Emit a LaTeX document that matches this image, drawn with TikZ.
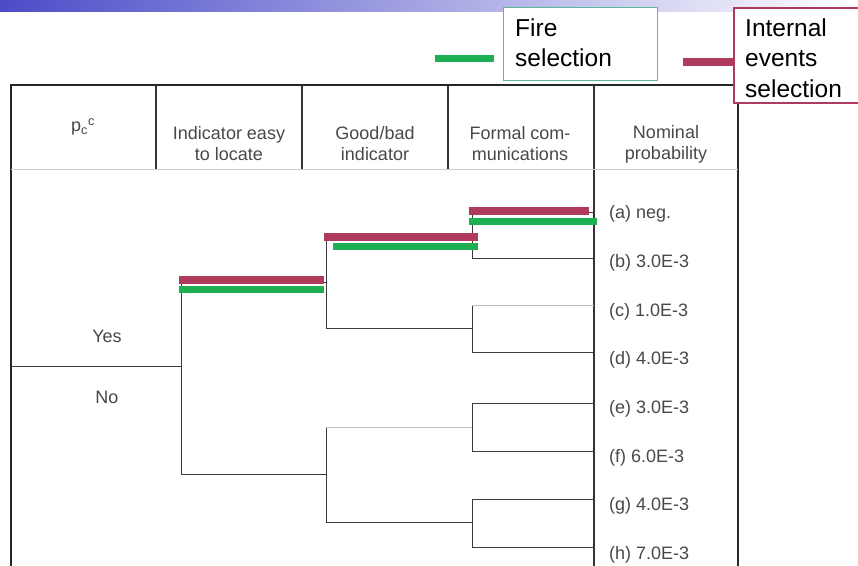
\documentclass[tikz,border=0pt]{standalone}
\usepackage{fontspec}
\setmainfont{Liberation Sans}
\usepackage{tikz}
\usetikzlibrary{positioning,calc}
\definecolor{evtred}{HTML}{AE3B5C}
\definecolor{firegreen}{HTML}{1EAF52}
\definecolor{fireteal}{HTML}{5BB99B}
\definecolor{treeink}{HTML}{3A3A3A}
\definecolor{headtext}{HTML}{484848}
\definecolor{bannerblue}{HTML}{4C4CC8}

\begin{document}
\begin{tikzpicture}[x=1pt, y=-1pt,
    frame/.style={line width=1.8pt, black!85},
    colrule/.style={line width=1.2pt, black!80},
    branch/.style={line width=1pt, treeink},
    faint/.style={line width=1pt, black!25},
    head/.style={font=\fontsize{18}{21}\selectfont, text=headtext, align=center, inner sep=0pt},
    prob/.style={font=\fontsize{18}{21}\selectfont, text=headtext, anchor=west, inner sep=0pt},
    evtbar/.style={line width=7.5pt, evtred},
    firebar/.style={line width=7pt, firegreen},
    legbox/.style={fill=white, anchor=north west, inner sep=0pt},
    legtext/.style={font=\fontsize{24.5}{30.5}\selectfont, align=left, anchor=north west, inner sep=0pt}]
  \clip (0,0) rectangle (858,565);
  \shade[left color=bannerblue, right color=white] (0,0) rectangle (858,11);

  % table frame and header
  \draw[frame] (11,566) -- (11,85) -- (738,85) -- (738,566);
  \foreach \cx in {156,302,448} \draw[colrule] (\cx,85) -- (\cx,169);
  \draw[colrule] (594,85) -- (594,566);
  \draw[line width=1pt, black!20] (11,169) -- (738,169);
  \node[head] (hpc)   at (83,127)  {p\textsubscript{c}\textsuperscript{c}};
  \node[head] (hloc)  at (229,144) {Indicator easy\\to locate};
  \node[head] (hgood) at (375,144) {Good/bad\\indicator};
  \node[head] (hcom)  at (520,144) {Formal com-\\munications};
  \node[head] (hnom)  at (666,144) {Nominal\\probability};

  % tree
  \coordinate (r0) at (11,366);
  \coordinate (j1) at (181,366);
  \coordinate (k1) at (326,282);
  \coordinate (k2) at (326,474);
  \coordinate (m1) at (472,236);
  \coordinate (m2) at (472,328);
  \coordinate (m3) at (472,427);
  \coordinate (m4) at (472,522);
  \coordinate (pa) at (594,212);
  \coordinate (pb) at (594,258);
  \coordinate (pc) at (594,305);
  \coordinate (pd) at (594,352);
  \coordinate (pe) at (594,403);
  \coordinate (pf) at (594,451);
  \coordinate (pg) at (594,499);
  \coordinate (ph) at (594,547);
  \draw[branch] (r0) -- (j1);
  \draw[branch] (j1) |- (k1);
  \draw[branch] (j1) |- (k2);
  \draw[branch] (k1) |- (m1);
  \draw[branch] (k1) |- (m2);
  \draw[branch] (k2) -- (k2|-m3);
  \draw[faint]  (k2|-m3) -- (m3);
  \draw[branch] (k2) |- (m4);
  \draw[branch] (m1) |- (pa);
  \draw[branch] (m1) |- (pb);
  \draw[branch] (m2) -- (m2|-pc);
  \draw[faint]  (m2|-pc) -- (pc);
  \draw[branch] (m2) |- (pd);
  \draw[branch] (m3) |- (pe);
  \draw[branch] (m3) |- (pf);
  \draw[branch] (m4) |- (pg);
  \draw[branch] (m4) |- (ph);
  \node[head] (yes) at (107,336) {Yes};
  \node[head] (no)  at (107,397) {No};
  \node[prob] (la) at (609,214) {(a) neg.};
  \node[prob] (lb) at (609,263) {(b) 3.0E-3};
  \node[prob] (lc) at (609,312) {(c) 1.0E-3};
  \node[prob] (ld) at (609,360) {(d) 4.0E-3};
  \node[prob] (le) at (609,409) {(e) 3.0E-3};
  \node[prob] (lf) at (609,458) {(f) 6.0E-3};
  \node[prob] (lg) at (609,506) {(g) 4.0E-3};
  \node[prob] (lh) at (609,555) {(h) 7.0E-3};

  % selected paths
  \draw[evtbar]   (179,280) -- (324,280);
  \draw[firebar]  (179,289) -- (324,289);
  \draw[evtbar]   (324,237) -- (478,237);
  \draw[firebar]  (333,246) -- (478,246);
  \draw[evtbar]   (469,211) -- (589,211);
  \draw[firebar]  (469,221) -- (597,221);

  % legend
  \draw[firebar] (435,58) -- (494,58);
  \node[legbox, draw=fireteal, line width=1.2pt, minimum width=154, minimum height=73] (firebox) at (503,7) {};
  \node[legtext] (firetxt) at (515,18.5) {Fire\\selection};
  \draw[evtbar] (683,62) -- (733,62);
  \node[legbox, draw=evtred, line width=2pt, minimum width=140, minimum height=95] (evtbox) at (733,7) {};
  \node[legtext] (evttxt) at (745,18.5) {Internal\\events\\selection};
\end{tikzpicture}
\end{document}
